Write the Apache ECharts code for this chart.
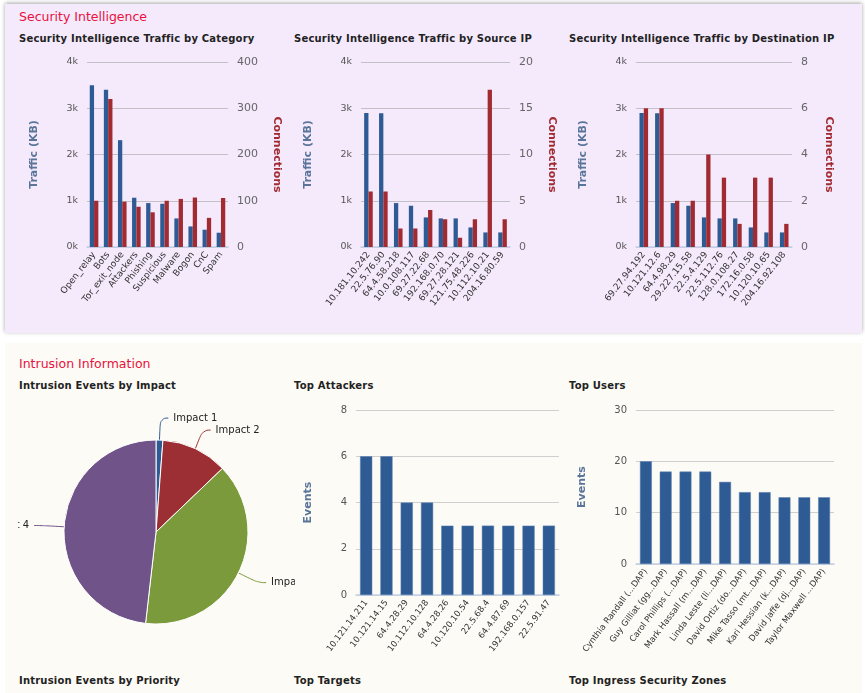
<!DOCTYPE html>
<html><head><meta charset="utf-8">
<script src="https://cdn.jsdelivr.net/npm/echarts@6/dist/echarts.min.js"></script>
<style>
html,body{margin:0;padding:0;background:#fff;width:865px;height:693px;overflow:hidden;font-family:"DejaVu Sans",Verdana,sans-serif;}
.panel{position:absolute;}
.sec{position:absolute;color:#e8103c;font-size:12.5px;white-space:nowrap;}
.ttl{position:absolute;color:#222;font-size:10px;font-weight:bold;white-space:nowrap;letter-spacing:0.2px;}
.ch{position:absolute;overflow:hidden;}
</style></head><body>
<div class="panel" style="left:5px;top:4px;width:857px;height:329px;background:#f5eafc;box-shadow:0 -1px 4px rgba(0,0,0,0.35);"></div>
<div class="panel" style="left:5px;top:343px;width:857px;height:350px;background:#fdfbf6;"></div>
<div class="sec" style="left:19px;top:9px;">Security Intelligence</div>
<div class="ttl" style="left:19px;top:33px;">Security Intelligence Traffic by Category</div>
<div class="ttl" style="left:294px;top:33px;">Security Intelligence Traffic by Source IP</div>
<div class="ttl" style="left:569px;top:33px;">Security Intelligence Traffic by Destination IP</div>
<div class="sec" style="left:19px;top:356px;">Intrusion Information</div>
<div class="ttl" style="left:19px;top:380px;">Intrusion Events by Impact</div>
<div class="ttl" style="left:294px;top:380px;">Top Attackers</div>
<div class="ttl" style="left:569px;top:380px;">Top Users</div>
<div class="ttl" style="left:19px;top:675px;">Intrusion Events by Priority</div>
<div class="ttl" style="left:294px;top:675px;">Top Targets</div>
<div class="ttl" style="left:569px;top:675px;">Top Ingress Security Zones</div>

<div class="ch" id="c1" style="left:5px;top:50px;width:285px;height:283px;"></div>
<div class="ch" id="c2" style="left:290px;top:50px;width:275px;height:283px;"></div>
<div class="ch" id="c3" style="left:565px;top:50px;width:297px;height:283px;"></div>
<div class="ch" style="left:18px;top:395px;width:277px;height:280px;">
  <div id="c4" style="position:absolute;left:-120px;top:0;width:517px;height:280px;"></div>
</div>
<div class="ch" id="c5" style="left:290px;top:395px;width:275px;height:280px;"></div>
<div class="ch" id="c6" style="left:565px;top:395px;width:297px;height:280px;"></div>
<script>
// ---- data ----
const catLabels = ['Open_relay','Bots','Tor_exit_node','Attackers','Phishing','Suspicious','Malware','Bogon','CnC','Spam'];
const catTraffic = [3500,3400,2310,1065,950,935,618,445,374,309];
const catConnections = [100,320,98,87,75,100,104,107,63,106];

const srcLabels = ['10.181.10.242','22.5.76.90','64.4.58.218','10.0.108.117','69.27.22.68','192.168.0.70','69.27.28.121','121.75.48.226','10.112.10.21','204.16.80.59'];
const srcTraffic = [2900,2890,950,892,640,618,618,423,315,315];
const srcConnections = [6,6,2,2,4,3,1,3,17,3];

const dstLabels = ['69.27.94.192','10.121.12.6','64.4.98.29','29.227.15.58','22.5.4.129','22.5.112.76','128.0.108.27','172.16.0.58','10.120.10.65','204.16.92.108'];
const dstTraffic = [2900,2890,950,892,640,618,618,423,315,315];
const dstConnections = [6,6,2,2,4,3,1,3,3,1];

const impactLabels = ['Impact 1','Impact 2','Impact 3','Impact 4'];
const impactValues = [3,29,97,120];

const attackerLabels = ['10.121.14.211','10.121.14.15','64.4.28.29','10.112.10.128','64.4.28.26','10.120.10.54','22.5.68.4','64.4.87.69','192.168.0.157','22.5.91.47'];
const attackerEvents = [6,6,4,4,3,3,3,3,3,3];

const userLabels = ['Cynthia Randall (...DAP)','Guy Gilliat (gg...DAP)','Carol Phillips (...DAP)','Mark Hassall (m...DAP)','Linda Leste (li...DAP)','David Ortiz (do...DAP)','Mike Tasso (mt...DAP)','Kari Hessian (k...DAP)','David Jaffe (dj...DAP)','Taylor Maxwell ...DAP)'];
const userEvents = [20,18,18,18,16,14,14,13,13,13];

// ---- styles ----
const FONT = 'DejaVu Sans';
const BLUE = '#2f5b94';
const RED = '#a12b31';
const PIE_COLORS = ['#2f5b94','#9c2f33','#7a9a3b','#6f5389'];

function dualOption(labels, traffic, conns, gridPos, rightMax, rightInt, nameGapR){
  return {
    animation:false,
    textStyle:{fontFamily:FONT},
    grid:gridPos,
    xAxis:{type:'category',data:labels,
      axisLine:{lineStyle:{color:'#c3d1e6',width:1.5}},
      axisTick:{alignWithLabel:true,length:5,lineStyle:{color:'#c3d1e6'}},
      axisLabel:{rotate:52,fontSize:9,color:'#333',fontFamily:FONT,margin:6,interval:0}},
    yAxis:[
      {type:'value',min:0,max:4000,interval:1000,
       name:'Traffic (KB)',nameLocation:'middle',nameGap:47,nameRotate:90,
       nameTextStyle:{color:'#5a7599',fontWeight:'bold',fontSize:11,fontFamily:FONT},
       axisLabel:{formatter:v=>(v/1000)+'k',color:'#555',fontSize:9.5,margin:9},
       axisLine:{show:false},axisTick:{show:false},
       splitLine:{lineStyle:{color:'#c4c0c8',width:1.2}}},
      {type:'value',min:0,max:rightMax,interval:rightInt,position:'right',
       name:'Connections',nameLocation:'middle',nameGap:nameGapR,nameRotate:-90,
       nameTextStyle:{color:'#a12b31',fontWeight:'bold',fontSize:11,fontFamily:FONT},
       axisLabel:{color:'#666',fontSize:11,margin:9},
       axisLine:{show:false},axisTick:{show:false},splitLine:{show:false}}
    ],
    series:[
      {type:'bar',data:traffic,yAxisIndex:0,barWidth:4.3,barGap:'0%',itemStyle:{color:BLUE}},
      {type:'bar',data:conns,yAxisIndex:1,barWidth:4.3,itemStyle:{color:RED}}
    ]
  };
}

const c1 = echarts.init(document.getElementById('c1'));
c1.setOption(dualOption(catLabels,catTraffic,catConnections,{left:82,top:12,width:145,height:185},400,100,43));
const c2 = echarts.init(document.getElementById('c2'));
c2.setOption(dualOption(srcLabels,srcTraffic,srcConnections,{left:71,top:12,width:151,height:185},20,5,36));
const c3 = echarts.init(document.getElementById('c3'));
c3.setOption(dualOption(dstLabels,dstTraffic,dstConnections,{left:71,top:12,width:156,height:185},8,2,31));

const c4 = echarts.init(document.getElementById('c4'));
c4.setOption({
  animation:false,
  textStyle:{fontFamily:FONT},
  series:[{type:'pie',center:[258,137],radius:92,startAngle:90,clockwise:true,
    data:impactLabels.map((n,i)=>({name:n,value:impactValues[i],itemStyle:{color:PIE_COLORS[i]}})),
    itemStyle:{borderColor:'#fff',borderWidth:1},
    label:{color:'#222',fontSize:10,fontFamily:FONT,overflow:'none'},
    labelLine:{length:22,length2:8,smooth:0.5,lineStyle:{width:1}},
    avoidLabelOverlap:true}]
});

function barOption(labels, values, gridPos, max, interval, nameGap, labelFont){
  return {
    animation:false,
    textStyle:{fontFamily:FONT},
    grid:gridPos,
    xAxis:{type:'category',data:labels,
      axisLine:{lineStyle:{color:'#c3d1e6',width:1.5}},
      axisTick:{alignWithLabel:true,length:5,lineStyle:{color:'#c3d1e6'}},
      axisLabel:{rotate:53,fontSize:labelFont,color:'#333',fontFamily:FONT,margin:6,interval:0}},
    yAxis:{type:'value',min:0,max:max,interval:interval,
      name:'Events',nameLocation:'middle',nameGap:nameGap,nameRotate:90,
      nameTextStyle:{color:'#5a7599',fontWeight:'bold',fontSize:11,fontFamily:FONT},
      axisLabel:{color:'#555',fontSize:10,margin:9},
      axisLine:{show:false},axisTick:{show:false},
      splitLine:{lineStyle:{color:'#cfcfcf',width:1.2}}},
    series:[{type:'bar',data:values,barWidth:'60%',itemStyle:{color:BLUE,borderColor:'#5a80b0',borderWidth:0.5}}]
  };
}
const c5 = echarts.init(document.getElementById('c5'));
c5.setOption(barOption(attackerLabels,attackerEvents,{left:66,top:15,width:203,height:185},8,2,42,8.5));
const c6 = echarts.init(document.getElementById('c6'));
c6.setOption(barOption(userLabels,userEvents,{left:71,top:15,width:198,height:154},30,10,48,8.5));
</script>
</body></html>
